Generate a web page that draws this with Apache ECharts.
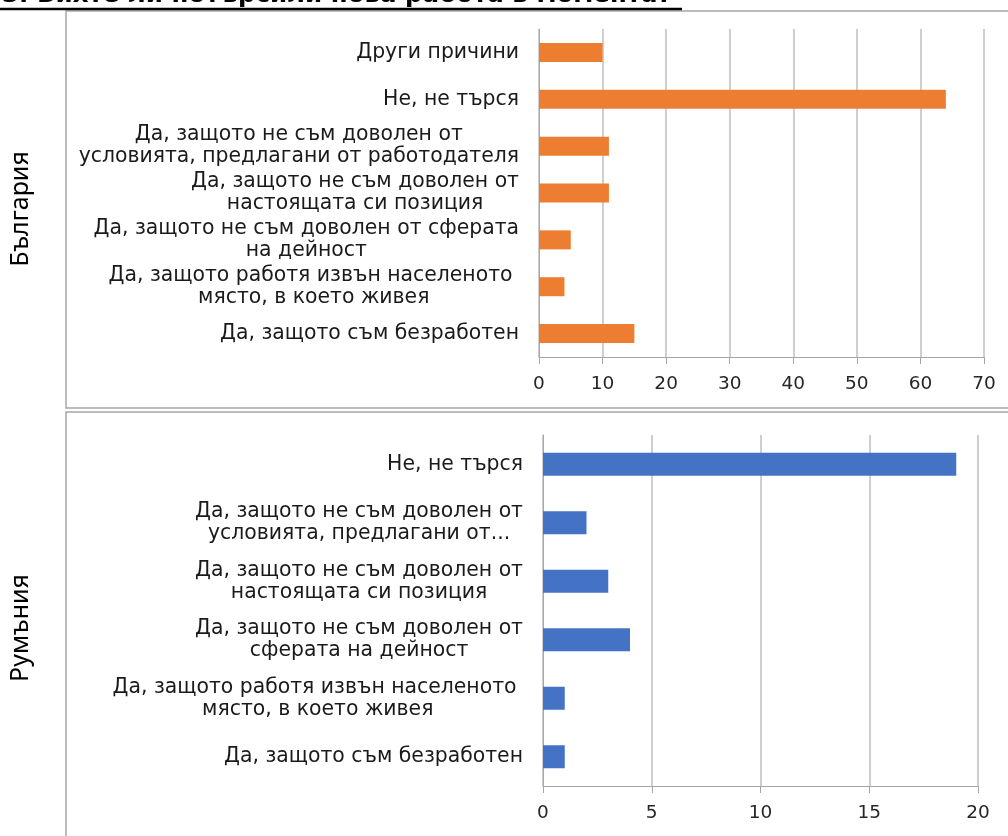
<!DOCTYPE html>
<html>
<head>
<meta charset="utf-8">
<script src="https://cdn.jsdelivr.net/npm/echarts@6/dist/echarts.min.js"></script>
<style>
	html, body { margin: 0; padding: 0; background: #fff; }
	#chart { width: 1008px; height: 836px; }
</style>
</head>
<body>
<div id="chart"></div>
<script>
// България, top to bottom
var bgCategories = [
	'Други причини',
	'Не, не търся',
	'Да, защото не съм доволен от\nусловията, предлагани от работодателя',
	'Да, защото не съм доволен от\nнастоящата си позиция',
	'Да, защото не съм доволен от сферата\nна дейност',
	'Да, защото работя извън населеното \nмясто, в което живея',
	'Да, защото съм безработен'
];
var bgValues = [10, 64, 11, 11, 5, 4, 15];
var bgAxis = [0, 70, 10]; // min, max, interval

// Румъния, top to bottom
var roCategories = [
	'Не, не търся',
	'Да, защото не съм доволен от\nусловията, предлагани от...',
	'Да, защото не съм доволен от\nнастоящата си позиция',
	'Да, защото не съм доволен от\nсферата на дейност',
	'Да, защото работя извън населеното \nмясто, в което живея',
	'Да, защото съм безработен'
];
var roValues = [19, 2, 3, 4, 1, 1];
var roAxis = [0, 20, 5];

var titleText = '3. Бихте ли потърсили нова работа в момента?';
var panelNames = ['България', 'Румъния'];

var font = 'DejaVu Sans';
var gridColor = '#bfbfbf';
var axisColor = '#a6a6a6';

function centered(v) {
	return v.split('\n').map(function (l) { return '{c|' + l + '}'; }).join('\n');
}

function catAxis(gridIndex, cats) {
	return {
		type: 'category',
		gridIndex: gridIndex,
		data: cats,
		inverse: true,
		axisLine: { lineStyle: { color: axisColor, width: 1 } },
		axisTick: { length: 8, lineStyle: { color: axisColor } },
		axisLabel: {
			margin: 20,
			align: 'right',
			formatter: centered,
			rich: {
				c: { align: 'center', fontFamily: font, fontSize: 20.4, lineHeight: 22, color: '#1a1a1a' }
			}
		}
	};
}

function valAxis(gridIndex, ax) {
	return {
		type: 'value',
		gridIndex: gridIndex,
		min: ax[0],
		max: ax[1],
		interval: ax[2],
		axisLine: { show: true, lineStyle: { color: axisColor, width: 1 } },
		axisTick: { show: true, length: 7, lineStyle: { color: axisColor } },
		splitLine: { lineStyle: { color: gridColor, width: 1.5 } },
		axisLabel: { margin: 18, fontFamily: font, fontSize: 18.5, color: '#262626' }
	};
}

var myChart = echarts.init(document.getElementById('chart'), null, { renderer: 'canvas' });

myChart.setOption({
	animation: false,
	grid: [
		{ left: 539, top: 29, right: 24, bottom: 479 },
		{ left: 543, top: 435, right: 30, bottom: 50 }
	],
	xAxis: [valAxis(0, bgAxis), valAxis(1, roAxis)],
	yAxis: [catAxis(0, bgCategories), catAxis(1, roCategories)],
	series: [
		{
			type: 'bar',
			xAxisIndex: 0,
			yAxisIndex: 0,
			barWidth: 19,
			itemStyle: { color: '#ED7D31' },
			data: bgValues
		},
		{
			type: 'bar',
			xAxisIndex: 1,
			yAxisIndex: 1,
			barWidth: 23,
			itemStyle: { color: '#4472C4' },
			data: roValues
		}
	],
	graphic: [
		// panel frames
		{ type: 'rect', shape: { x: 66, y: 11, width: 960, height: 397 }, style: { fill: 'none', stroke: '#a6a6a6', lineWidth: 1.5 }, silent: true },
		{ type: 'rect', shape: { x: 66, y: 412, width: 960, height: 440 }, style: { fill: 'none', stroke: '#a6a6a6', lineWidth: 1.5 }, silent: true },
		// heading, cut off at the top edge
		{ type: 'text', x: 2, y: 8, style: { text: titleText, fontFamily: font, fontWeight: 'bold', fontSize: 24.5, fill: '#000', verticalAlign: 'bottom' }, silent: true },
		{ type: 'line', shape: { x1: 0, y1: 9, x2: 682, y2: 9 }, style: { stroke: '#000', lineWidth: 2.5 }, silent: true },
		// panel names
		{ type: 'text', x: 21, y: 209, rotation: Math.PI / 2, style: { text: panelNames[0], fontFamily: 'Noto Sans', fontSize: 25, fill: '#000', align: 'center', verticalAlign: 'middle' }, silent: true },
		{ type: 'text', x: 21, y: 628, rotation: Math.PI / 2, style: { text: panelNames[1], fontFamily: 'Noto Sans', fontSize: 25, fill: '#000', align: 'center', verticalAlign: 'middle' }, silent: true }
	]
});
</script>
</body>
</html>
